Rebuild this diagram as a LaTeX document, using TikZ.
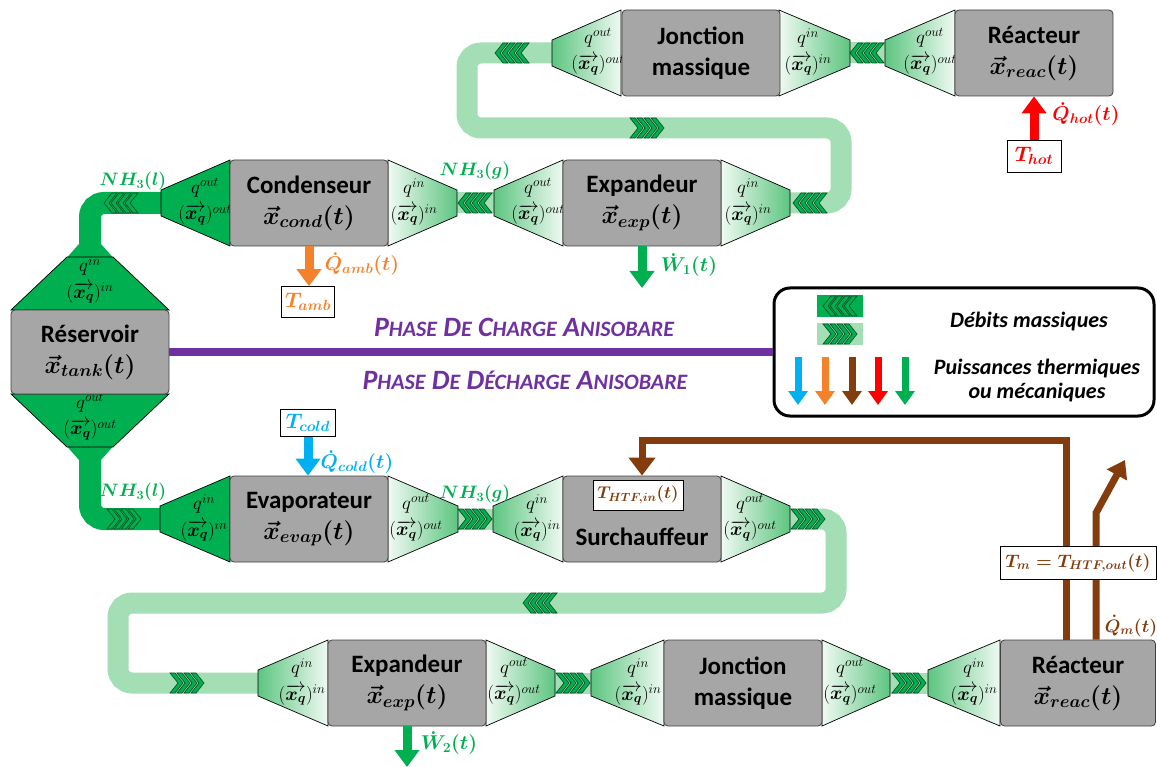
\RequirePackage{fix-cm}
\documentclass[tikz,border=0pt]{standalone}
\usepackage{amsmath}
\usepackage{fontspec}
\setmainfont{Carlito}
\usetikzlibrary{arrows.meta,calc}
\definecolor{dkg}{HTML}{00B050}
\definecolor{chevd}{HTML}{0B4F25}
\definecolor{lpipe}{HTML}{A3DEB5}
\definecolor{lgA}{HTML}{5DC580}
\definecolor{lgB}{HTML}{F0FAF3}
\definecolor{gbox}{HTML}{A6A6A6}
\definecolor{purp}{HTML}{7030A0}
\definecolor{brn}{HTML}{843C0C}
\definecolor{orng}{HTML}{F5822A}
\definecolor{blu}{HTML}{00B0F0}
\definecolor{rd}{HTML}{FF0000}
\definecolor{grn}{HTML}{00B050}
\newcommand\fun[4]{\path[#4] (#1,#3-43) -- (#2,#3-13) -- (#2,#3+13) -- (#1,#3+43) -- cycle;}
\newcommand\flab[4]{%
  \node[ql] (#4a) at (#1,#2-15) {$q^{#3}$};
  \node[ql] (#4b) at (#1,#2+12) {$(\overrightarrow{\boldsymbol{x_q}})^{#3}$};}
\newcommand\bigsc[2]{{\fontsize{28}{28}\selectfont #1}{\fontsize{22}{22}\selectfont #2}}
\begin{document}
\begin{tikzpicture}[x=1pt,y=-1pt,
  blk/.style={draw=black!75,fill=gbox,rounded corners=4pt,line width=0.8pt,minimum width=158pt,minimum height=86pt,align=center,inner sep=0pt,font=\fontsize{25}{31}\selectfont\bfseries\mathversion{bold}},
  ql/.style={inner sep=0pt,font=\fontsize{19}{19}\selectfont},
  fdk/.style={fill=dkg,draw=black,line width=0.7pt},
  fnl/.style={left color=lgA,right color=lgB,draw=black,line width=0.7pt},
  fnr/.style={left color=lgB,right color=lgA,draw=black,line width=0.7pt},
  lp/.style={draw=lpipe,line width=21pt,rounded corners=14pt},
  dp/.style={draw=dkg,line width=22pt,rounded corners=14pt},
  chevs/.pic={\foreach \i in {0,1,2,3}{\filldraw[fill=dkg,draw=chevd,line width=0.7pt] (\i*7-17,-10) -- (\i*7-9,0) -- (\i*7-17,10) -- (\i*7-12,10) -- (\i*7-4,0) -- (\i*7-12,-10) -- cycle;}},
  thk/.style={line width=9pt,-{Triangle[width=24pt,length=17pt]}},
  lthk/.style={line width=7pt,-{Triangle[width=19pt,length=14pt]}},
  tb/.style={draw=black,fill=white,line width=0.8pt,inner sep=3pt,font=\fontsize{21}{21}\selectfont\mathversion{bold}},
  lab/.style={inner sep=0pt,font=\fontsize{20}{20}\selectfont\mathversion{bold}},
  nh/.style={inner sep=0pt,font=\fontsize{18}{18}\selectfont\mathversion{bold},text=grn},
  legt/.style={inner sep=0pt,font=\fontsize{22}{22}\selectfont\bfseries\itshape},
  ph/.style={text=purp,inner sep=0pt,font=\fontsize{28}{28}\selectfont\bfseries\itshape},
]
\useasboundingbox (0,0) rectangle (1157,767);
% narrow-end coordinates
\coordinate (J1l) at (552,53); \coordinate (J1r) at (850,53); \coordinate (R1l) at (885,53);
\coordinate (Cl) at (161,203); \coordinate (Cr) at (457,203); \coordinate (E1l) at (494,203); \coordinate (E1r) at (790,203);
\coordinate (Tt) at (90,246); \coordinate (Tb) at (90,458);
\coordinate (Evl) at (160,519); \coordinate (Evr) at (458,519); \coordinate (Sl) at (493,519); \coordinate (Sr) at (790,519);
\coordinate (E2l) at (258,683); \coordinate (E2r) at (555,683); \coordinate (J2l) at (591,683); \coordinate (J2r) at (890,683); \coordinate (R2l) at (928,683);
% pipes
\draw[lp] (J1l) -- (467,53) -- (467,128) -- (841,128) -- (841,203) -- (E1r);
\draw[lp] (J1r) -- (R1l);
\draw[lp] (Cr) -- (E1l);
\draw[lp] (Evr) -- (Sl);
\draw[lp] (Sr) -- (836,519) -- (836,603) -- (118,603) -- (118,683) -- (E2l);
\draw[lp] (E2r) -- (J2l);
\draw[lp] (J2r) -- (R2l);
\draw[dp] (Cl) -- (90,203) -- (Tt);
\draw[dp] (Tb) -- (90,519) -- (Evl);
\fill[dkg] (79,244) -- (101,244) -- (113,257.5) -- (67,257.5) -- cycle;
\fill[dkg] (67,446.5) -- (113,446.5) -- (101,460) -- (79,460) -- cycle;
% funnels
\fun{621}{552}{53}{fnl}
\fun{779}{850}{53}{fnr}
\fun{955}{885}{53}{fnl}
\fun{230}{161}{203}{fdk}
\fun{388}{457}{203}{fnr}
\fun{563}{494}{203}{fnl}
\fun{721}{790}{203}{fnr}
\fun{230}{160}{519}{fdk}
\fun{388}{458}{519}{fnr}
\fun{563}{493}{519}{fnl}
\fun{721}{790}{519}{fnr}
\fun{328}{258}{683}{fnl}
\fun{486}{555}{683}{fnr}
\fun{664}{591}{683}{fnl}
\fun{822}{890}{683}{fnr}
\fun{1000}{928}{683}{fnl}
\path[fdk] (11,310) -- (67,257) -- (113,257) -- (169,310) -- cycle;
\path[fdk] (11,394) -- (67,447) -- (113,447) -- (169,394) -- cycle;
% funnel labels
\flab{598}{53}{out}{J1L}
\flab{808}{53}{in}{J1R}
\flab{930}{53}{out}{R1L}
\flab{205}{203}{out}{CL}
\flab{414}{203}{in}{CR}
\flab{538}{203}{out}{E1L}
\flab{748}{203}{in}{E1R}
\flab{90}{281}{in}{TT}
\flab{90}{418}{out}{TB}
\flab{204}{519}{in}{EvL}
\flab{416}{519}{out}{EvR}
\flab{537}{519}{in}{SL}
\flab{750}{519}{out}{SR}
\flab{302}{683}{in}{E2L}
\flab{514}{683}{out}{E2R}
\flab{638}{683}{in}{J2L}
\flab{850}{683}{out}{J2R}
\flab{974}{683}{in}{R2L}
% blocks
\node[blk] (J1) at (701,53) {Jonction\\massique};
\node[blk] (R1) at (1034,53) {Réacteur\\$\vec{x}_{reac}(t)$};
\node[blk] (C) at (309,203) {Condenseur\\$\vec{x}_{cond}(t)$};
\node[blk] (E1) at (642,203) {Expandeur\\$\vec{x}_{exp}(t)$};
\node[blk,minimum height=84pt] (T) at (90,352) {Réservoir\\$\vec{x}_{tank}(t)$};
\node[blk] (Ev) at (309,519) {Evaporateur\\$\vec{x}_{evap}(t)$};
\node[blk] (S) at (642,519) {\strut\\Surchauffeur};
\node[blk] (E2) at (407,683) {Expandeur\\$\vec{x}_{exp}(t)$};
\node[blk] (J2) at (743,683) {Jonction\\massique};
\node[blk,minimum width=155pt] (R2) at (1078,683) {Réacteur\\$\vec{x}_{reac}(t)$};
% chevrons
\pic[xscale=-1] at (512,53) {chevs};
\pic[xscale=-1] at (867,53) {chevs};
\pic at (647,128) {chevs};
\pic[xscale=-1] at (810,203) {chevs};
\pic[xscale=-1] at (475,203) {chevs};
\pic[xscale=-1] at (121,203) {chevs};
\pic at (124,519) {chevs};
\pic at (475,519) {chevs};
\pic at (808,519) {chevs};
\pic[xscale=-1] at (540,603) {chevs};
\pic at (187,683) {chevs};
\pic at (573,683) {chevs};
\pic at (909,683) {chevs};
% labels NH3
\node[nh] (nh1) at (133,181) {$NH_3(l)$};
\node[nh] (nh2) at (475,171) {$NH_3(g)$};
\node[nh] (nh3) at (133,492) {$NH_3(l)$};
\node[nh] (nh4) at (475,494) {$NH_3(g)$};
% heat / work
\node[tb,text=orng,minimum width=53pt,minimum height=31pt] (Tamb) at (308,302) {$T_{amb}$};
\draw[thk,orng] (C.south) -- (C.south |- Tamb.north);
\node[lab,text=orng] (Qamb) at (362,264) {$\dot{Q}_{amb}(t)$};
\node[tb,text=rd,minimum width=54pt,minimum height=32pt] (Thot) at (1034,156) {$T_{hot}$};
\draw[thk,rd] (Thot.north) -- (R1.south);
\node[lab,text=rd] (Qhot) at (1086,114) {$\dot{Q}_{hot}(t)$};
\node[tb,text=blu,minimum width=55pt,minimum height=27pt] (Tcold) at (308,423) {$T_{cold}$};
\draw[thk,blu] (Tcold.south) -- (Tcold.south |- Ev.north);
\node[lab,text=blu] (Qcold) at (357,462) {$\dot{Q}_{cold}(t)$};
\coordinate (W1e) at (642,288);
\draw[thk,grn] (E1.south) -- (W1e);
\node[lab,text=grn] (W1) at (689,265) {$\dot{W}_1(t)$};
\coordinate (W2e) at (407,767);
\draw[thk,grn] (E2.south) -- (W2e);
\node[lab,text=grn] (W2) at (449,743) {$\dot{W}_2(t)$};
% brown HTF loop
\coordinate (bk1) at (1066,440);
\draw[brn,line width=7pt,-{Triangle[width=26pt,length=18pt]}] ([xshift=-12pt]R2.north) -- (bk1) -| (S.north);
\coordinate (hout) at (1125,460);
\draw[brn,line width=7pt,-{Triangle[width=22pt,length=17pt]}] ([xshift=18pt]R2.north) -- (1096,513) -- (hout);
\node[tb,text=brn,minimum width=90pt,minimum height=30pt,font=\fontsize{17}{17}\selectfont\mathversion{bold}] (Thtf) at (638,495) {$T_{HTF,in}(t)$};
\node[tb,text=brn,minimum width=156pt,minimum height=33pt,font=\fontsize{18}{18}\selectfont\mathversion{bold}] (Tm) at (1078,563) {$T_m = T_{HTF,out}(t)$};
\node[lab,text=brn,font=\fontsize{18}{18}\selectfont\mathversion{bold}] (Qm) at (1131,626) {$\dot{Q}_m(t)$};
% legend
\node[draw,line width=3pt,rounded corners=16pt,minimum width=380pt,minimum height=128pt,inner sep=0pt] (leg) at (964,352) {};
\draw[purp,line width=8pt] (T.east) -- (T.east -| leg.west);
\node[fill=dkg,minimum width=46pt,minimum height=22pt,inner sep=0pt] (sw1) at (840,306) {};
\pic[xscale=-1] at (sw1) {chevs};
\node[fill=lpipe,minimum width=46pt,minimum height=22pt,inner sep=0pt] (sw2) at (840,334) {};
\pic at (sw2) {chevs};
\draw[lthk,blu] (798,357) -- (798,405);
\draw[lthk,orng] (825,357) -- (825,405);
\draw[lthk,brn] (852,357) -- (852,405);
\draw[lthk,rd] (878,357) -- (878,405);
\draw[lthk,grn] (905,357) -- (905,405);
\node[legt] (lg1) at (1029,322) {Débits massiques};
\node[legt] (lg2) at (1037,369) {Puissances thermiques};
\node[legt] (lg3) at (1037,393) {ou mécaniques};
% phases
\node[ph] (ph1) at (524,327) {\bigsc{P}{HASE} \bigsc{D}{E} \bigsc{C}{HARGE} \bigsc{A}{NISOBARE}};
\node[ph] (ph2) at (525,380) {\bigsc{P}{HASE} \bigsc{D}{E} \bigsc{D}{ÉCHARGE} \bigsc{A}{NISOBARE}};
\end{tikzpicture}
\end{document}
